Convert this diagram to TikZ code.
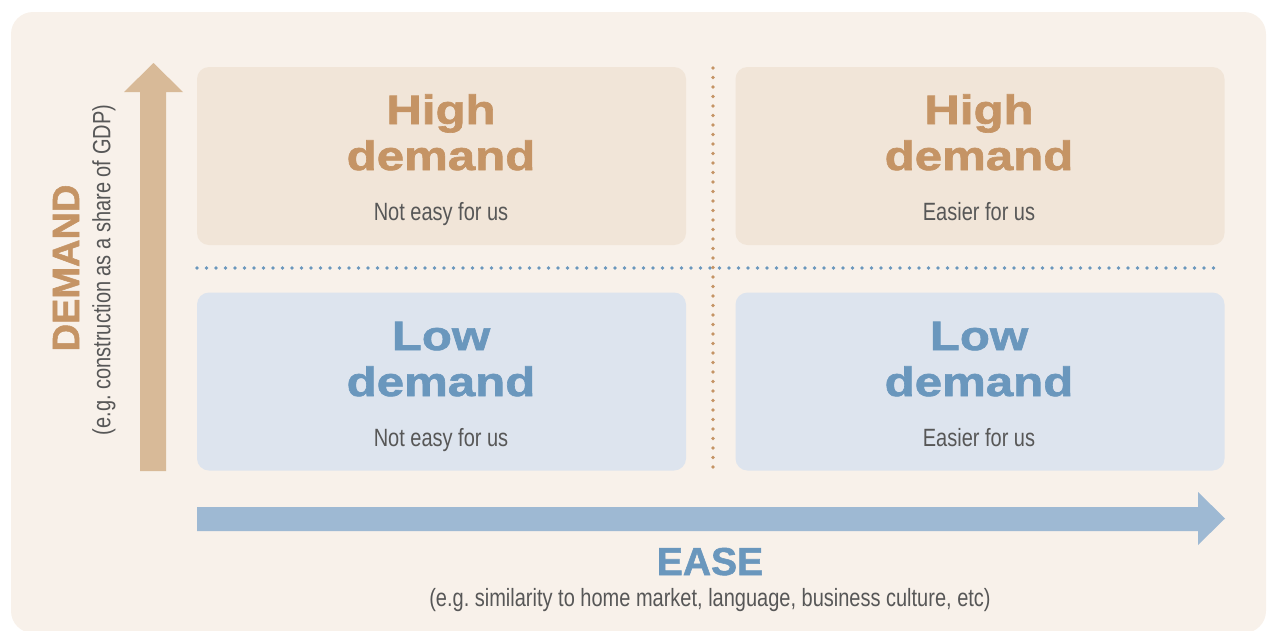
\documentclass[tikz,border=0pt]{standalone}
\usepackage{fontspec}
\setmainfont{Liberation Sans}
\newfontfamily\narrowfont[FakeStretch=0.8]{Liberation Sans}
\newfontfamily\headfont[FakeStretch=1.2, FakeBold=1.6]{Liberation Sans Bold}
\newfontfamily\axisfont[FakeBold=1.4]{Liberation Sans Bold}
\frenchspacing

\definecolor{bgfill}{HTML}{F8F1EA}
\definecolor{highfill}{HTML}{F1E5D8}
\definecolor{lowfill}{HTML}{DDE4EE}
\definecolor{hightext}{HTML}{C59465}
\definecolor{lowtext}{HTML}{6A97BD}
\definecolor{uparrow}{HTML}{D8BA98}
\definecolor{rightarrow}{HTML}{9EB9D3}
\definecolor{greytext}{HTML}{575757}

\begin{document}
\begin{tikzpicture}[x=1pt, y=-1pt,
    quad/.style={rounded corners=12pt, minimum width=489pt, minimum height=178pt, inner sep=0pt},
    head/.style={anchor=base, inner sep=0pt, font=\headfont\fontsize{41}{44}\selectfont},
    sub/.style={anchor=base, inner sep=0pt, text=greytext, font=\narrowfont\fontsize{25}{28}\selectfont},
    dots/.style={line width=3.6pt, line cap=round, dash pattern=on 0pt off 9.5pt}]
    \useasboundingbox (0,0) rectangle (1267,630);
    \clip (0,0) rectangle (1267,630);
    \fill[bgfill, rounded corners=22pt] (11,12) rectangle (1266,633);

    % the four quadrants
    \node[quad, fill=highfill] (hl) at (441.5,156) {};
    \node[quad, fill=highfill] (hr) at (980,156) {};
    \node[quad, fill=lowfill] (ll) at (441.5,381.5) {};
    \node[quad, fill=lowfill] (lr) at (980,381.5) {};

    \node[head, text=hightext] (hlA) at (441,124) {High};
    \node[head, text=hightext] (hlB) at (441,170) {demand};
    \node[sub] (hlC) at (441,220) {Not easy for us};
    \node[head, text=hightext] (hrA) at (979,124) {High};
    \node[head, text=hightext] (hrB) at (979,170) {demand};
    \node[sub] (hrC) at (979,220) {Easier for us};
    \node[head, text=lowtext] (llA) at (441,350) {Low};
    \node[head, text=lowtext] (llB) at (441,396) {demand};
    \node[sub] (llC) at (441,446) {Not easy for us};
    \node[head, text=lowtext] (lrA) at (979,350) {Low};
    \node[head, text=lowtext] (lrB) at (979,396) {demand};
    \node[sub] (lrC) at (979,446) {Easier for us};

    % dotted dividers
    \coordinate (vtop) at (713,68);
    \coordinate (vbot) at (713,470);
    \coordinate (hleft) at (197,268);
    \coordinate (hright) at (1217,268);
    \draw[dots, color=lowtext] (hleft) -- (hright);
    \draw[dots, color=hightext] (vtop) -- (vbot);

    % axes
    \fill[uparrow] (140,471) -- (140,92) -- (124,92) -- (153.5,63) -- (183,92) -- (166,92) -- (166,471) -- cycle;
    \fill[rightarrow] (197,507) -- (1198,507) -- (1198,492) -- (1225,518.5) -- (1198,545) -- (1198,531) -- (197,531) -- cycle;

    \node[rotate=90, text=hightext, inner sep=0pt, font=\axisfont\fontsize{38}{40}\selectfont] (demand) at (66,268) {DEMAND};
    \node[rotate=90, text=greytext, inner sep=0pt, font=\narrowfont\fontsize{25}{28}\selectfont] (demandnote) at (104,270) {(e.g. construction as a share of GDP)};
    \node[anchor=base, text=lowtext, inner sep=0pt, font=\axisfont\fontsize{39}{42}\selectfont] (ease) at (710,575) {EASE};
    \node[anchor=base, text=greytext, inner sep=0pt, font=\narrowfont\fontsize{25}{28}\selectfont] (easenote) at (710,606) {(e.g. similarity to home market, language, business culture, etc)};
\end{tikzpicture}
\end{document}
